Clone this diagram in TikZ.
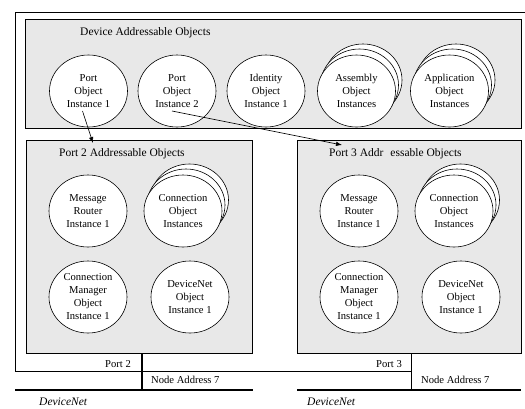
\documentclass[tikz,border=0pt]{standalone}
\usepackage{fontspec}
\setmainfont{Liberation Serif}
\usetikzlibrary{shapes.geometric, arrows.meta, positioning, calc}
\definecolor{cPanel}{RGB}{232,232,232}
\newcommand\objfont{\fontsize{10.6}{13}\selectfont}
\newcommand\lblfont{\fontsize{11.5}{13}\selectfont}
\tikzset{
	obj/.style   ={ellipse, draw=black, fill=white, line width=0.6pt, minimum width=78pt, minimum height=72pt, inner sep=0pt, align=center, font=\objfont},
	grp/.style   ={rectangle, draw=black, fill=cPanel, line width=0.6pt, anchor=north west, inner sep=0pt},
	txt/.style   ={inner sep=0pt, font=\lblfont},
	ptr/.style   ={-{Latex[length=6pt,width=4.5pt]}, line width=0.6pt},
	bus/.style   ={line width=1.4pt},
}
% object with further instances stacked behind it
\newcommand\stackobj[3]{%
	\node[obj] (#1-b2) at ($(#2)+(6.5,-11)$) {};
	\node[obj] (#1-b1) at ($(#2)+(3,-6)$) {};
	\node[obj] (#1) at (#2) {#3};}

\begin{document}
\begin{tikzpicture}[x=1pt, y=-1pt]
	\useasboundingbox (0,0) rectangle (525,408);
	% device frame
	\draw[line width=0.6pt] (411,371) -- (15,371) -- (15,12.5);
	\draw[line width=1.3pt] (15,12.5) -- (525,12.5);
	% object groups
	\node[grp, minimum width=496pt, minimum height=109pt] (dev) at (25,19) {};
	\node[grp, minimum width=226pt, minimum height=213pt] (p2box) at (26,140) {};
	\node[grp, minimum width=224pt, minimum height=213pt] (p3box) at (297,140) {};
	\node[txt, anchor=west] (devlbl) at (80,33) {Device Addressable Objects};
	\node[txt, anchor=west] (p2lbl) at (59,154) {Port 2 Addressable Objects};
	\node[txt, anchor=west] (p3lbl) at (329,154) {Port 3 Addr\hspace{7pt}essable Objects};
	% device objects
	\node[obj] (port1) at (88.5,91) {Port\\ Object\\ Instance 1};
	\node[obj] (port2) at (177,91) {Port\\ Object\\ Instance 2};
	\node[obj] (ident) at (266,91) {Identity\\ Object\\ Instance 1};
	\stackobj{asm}{356.5,91}{Assembly\\ Object\\ Instances}
	\stackobj{app}{449.5,91}{Application\\ Object\\ Instances}
	% port 2 objects
	\node[obj] (mr2) at (88,211) {Message\\ Router\\ Instance 1};
	\stackobj{conn2}{183,211}{Connection\\ Object\\ Instances}
	\node[obj] (cm2) at (88,297) {Connection\\ Manager\\ Object\\ Instance 1};
	\node[obj] (dn2) at (190,297) {DeviceNet\\ Object\\ Instance 1};
	% port 3 objects
	\node[obj] (mr3) at (359,211) {Message\\ Router\\ Instance 1};
	\stackobj{conn3}{454,211}{Connection\\ Object\\ Instances}
	\node[obj] (cm3) at (359,297) {Connection\\ Manager\\ Object\\ Instance 1};
	\node[obj] (dn3) at (461,297) {DeviceNet\\ Object\\ Instance 1};
	% port links
	\coordinate (a1s) at ($(port1.center)+(-6,20)$);
	\coordinate (a1e) at ($(p2box.north west)+(67,3)$);
	\coordinate (a2s) at ($(port2.center)+(-5,20)$);
	\coordinate (a2e) at ($(p3box.north west)+(45,5)$);
	\draw[ptr] (a1s) -- (a1e);
	\draw[ptr] (a2s) -- (a2e);
	% network connections
	\coordinate (j2) at (142,390);
	\coordinate (j3) at (411.5,390);
	\coordinate (n2w) at (15,390);
	\coordinate (n2e) at (253,390);
	\coordinate (n3w) at (297,390);
	\coordinate (n3e) at (521,390);
	\draw[bus] (j2 |- p2box.south) -- (j2);
	\draw[bus] (j3 |- p3box.south) -- (j3);
	\draw[bus] (n2w) -- (n2e);
	\draw[bus] (n3w) -- (n3e);
	\draw[line width=0.6pt] (n3w |- 0,371) -- (j3 |- 0,371);
	\node[txt, anchor=east, font=\objfont] (p2port) at (131,364) {Port 2};
	\node[txt, anchor=west, font=\objfont] (p2addr) at (151,380) {Node Address 7};
	\node[txt, anchor=west, font=\lblfont\itshape] (p2net) at (39,402) {DeviceNet};
	\node[txt, anchor=east, font=\objfont] (p3port) at (402,364) {Port 3};
	\node[txt, anchor=west, font=\objfont] (p3addr) at (421,380) {Node Address 7};
	\node[txt, anchor=west, font=\lblfont\itshape] (p3net) at (307,402) {DeviceNet};
\end{tikzpicture}
\end{document}
